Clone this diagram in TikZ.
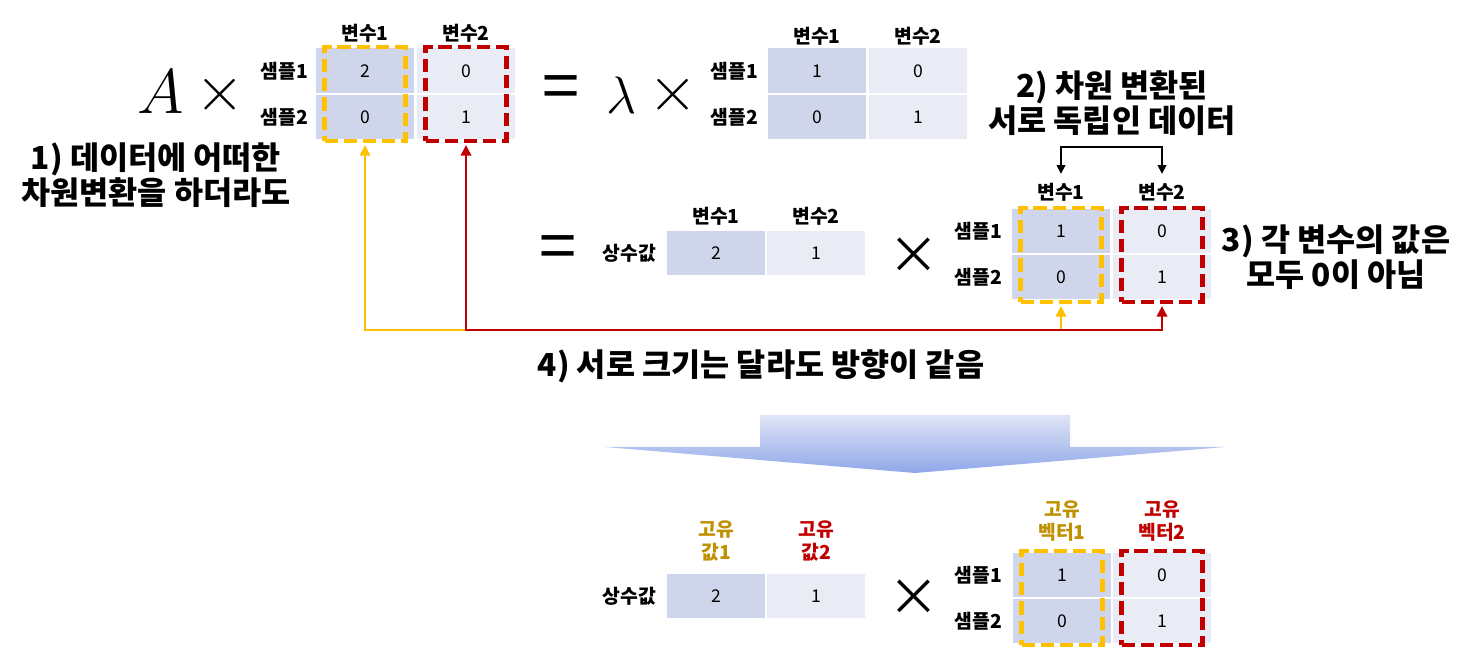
\documentclass[tikz,border=0pt]{standalone}
\usepackage{fix-cm}
\usepackage{fontspec}
\setmainfont{Noto Sans CJK KR}
\usetikzlibrary{arrows.meta}

\definecolor{celldark}{HTML}{CFD5EA}
\definecolor{celllight}{HTML}{E9EBF5}
\definecolor{dashyellow}{HTML}{FFC000}
\definecolor{dashred}{HTML}{C00000}
\definecolor{goldtext}{HTML}{BF9000}
\definecolor{arrowtop}{HTML}{E0E5F6}
\definecolor{arrowbot}{HTML}{8FA8E9}

\begin{document}
\begin{tikzpicture}[
  x=0.02cm, y=-0.02cm,
  darkcell/.style={fill=celldark, minimum width=1.96cm, minimum height=0.9cm, inner sep=0pt, font=\fontsize{10}{12}\selectfont},
  lightcell/.style={darkcell, fill=celllight},
  hdr/.style={font=\fontsize{11}{13}\selectfont\bfseries, inner sep=1pt, align=center},
  rowname/.style={hdr, anchor=east},
  note/.style={font=\fontsize{18}{19.5}\selectfont\bfseries, align=center},
  ybox/.style={draw=dashyellow, line width=2.3pt, dash pattern=on 7.5pt off 3.4pt, minimum width=1.62cm, minimum height=1.88cm, inner sep=0pt},
  rbox/.style={ybox, draw=dashred},
  yarrow/.style={{Triangle[width=6pt,length=6pt]}-{Triangle[width=6pt,length=6pt]}, line width=1.2pt, draw=dashyellow, shorten <=1.2pt, shorten >=1.2pt},
  rarrow/.style={yarrow, draw=dashred},
  blkarrow/.style={{Triangle[width=5pt,length=5pt]}-{Triangle[width=5pt,length=5pt]}, line width=0.9pt, shorten <=4pt, shorten >=4pt},
  bigsym/.style={font=\fontsize{36}{40}\selectfont, inner sep=0pt},
  eqsign/.style={font=\fontsize{38}{40}\selectfont, inner sep=0pt},
  boldx/.style={font=\fontsize{29}{32}\selectfont, inner sep=0pt}
]
\useasboundingbox (0,0) rectangle (1465,665);

% A x matrix
\node[bigsym] (amat) at (161,92) {$A$};
\node[bigsym] (times1) at (220,95) {$\times$};
\node[hdr] (ha1) at (365,33) {변수1};
\node[hdr] (ha2) at (466,33) {변수2};
\node[rowname] (ra1) at (310,71) {샘플1};
\node[rowname] (ra2) at (310,117) {샘플2};
\node[darkcell] (a11) at (365,71) {2};
\node[lightcell] (a12) at (466,71) {0};
\node[darkcell] (a21) at (365,117) {0};
\node[lightcell] (a22) at (466,117) {1};
\node[ybox] (boxya) at (365,94) {};
\node[rbox] (boxra) at (466,94) {};

% = lambda x matrix
\node[eqsign] (eq1) at (561,93) {=};
\node[bigsym, font=\fontsize{30}{32}\selectfont] (lam) at (622,95) {$\lambda$};
\node[bigsym] (times2) at (673,95) {$\times$};
\node[hdr] (hb1) at (817,36) {변수1};
\node[hdr] (hb2) at (918,36) {변수2};
\node[rowname] (rb1) at (760,71) {샘플1};
\node[rowname] (rb2) at (760,117) {샘플2};
\node[darkcell] (b11) at (817,71) {1};
\node[lightcell] (b12) at (918,71) {0};
\node[darkcell] (b21) at (817,117) {0};
\node[lightcell] (b22) at (918,117) {1};

\node[note, font=\fontsize{18}{17.5}\selectfont\bfseries] (note1) at (156,175) {1) 데이터에 어떠한\\차원변환을 하더라도};
\node[note] (note2) at (1112,103) {2) 차원 변환된\\서로 독립인 데이터};

% = constants x data
\node[eqsign] (eq2) at (558,253) {=};
\node[rowname] (rc) at (658,253) {상수값};
\node[hdr] (hc1) at (716,216) {변수1};
\node[hdr] (hc2) at (816,216) {변수2};
\node[darkcell] (c1) at (716,253) {2};
\node[lightcell] (c2) at (816,253) {1};
\node[boldx] (times3) at (914,256) {×};

\node[hdr] (hd1) at (1061,192) {변수1};
\node[hdr] (hd2) at (1162,192) {변수2};
\node[rowname] (rd1) at (1004,231) {샘플1};
\node[rowname] (rd2) at (1004,277) {샘플2};
\node[darkcell] (d11) at (1061,231) {1};
\node[lightcell] (d12) at (1162,231) {0};
\node[darkcell] (d21) at (1061,277) {0};
\node[lightcell] (d22) at (1162,277) {1};
\node[ybox] (boxyd) at (1061,255) {};
\node[rbox] (boxrd) at (1162,255) {};

\node[note, font=\fontsize{18}{20}\selectfont\bfseries] (note3) at (1336,257) {3) 각 변수의 값은\\모두 0이 아님};

\coordinate (bktop) at (1112,147);
\draw[blkarrow] (hd1.north) |- (bktop) -| (hd2.north);

% same direction links
\coordinate (lowline) at (0,330);
\draw[yarrow] (boxya.south) -- (boxya.south |- lowline) -| (boxyd.south);
\draw[rarrow] (boxra.south) -- (boxra.south |- lowline) -| (boxrd.south);

\node[note] (note4) at (761,366) {4) 서로 크기는 달라도 방향이 같음};

% block arrow
\shade[top color=arrowtop, bottom color=arrowbot] (760,415) -- (1070,415) -- (1070,447) -- (1225,447) -- (915,473) -- (605,447) -- (760,447) -- cycle;

% eigenvalues x eigenvectors
\node[hdr, text=goldtext] (he1) at (716,541) {고유\\값1};
\node[hdr, text=dashred] (he2) at (816,541) {고유\\값2};
\node[rowname] (re) at (658,596) {상수값};
\node[darkcell] (e1) at (716,596) {2};
\node[lightcell] (e2) at (816,596) {1};
\node[boldx] (times4) at (914,598) {×};

\node[hdr, text=goldtext] (hf1) at (1062,521) {고유\\벡터1};
\node[hdr, text=dashred] (hf2) at (1162,521) {고유\\벡터2};
\node[rowname] (rf1) at (1004,575) {샘플1};
\node[rowname] (rf2) at (1004,621) {샘플2};
\node[darkcell] (f11) at (1062,575) {1};
\node[lightcell] (f12) at (1162,575) {0};
\node[darkcell] (f21) at (1062,621) {0};
\node[lightcell] (f22) at (1162,621) {1};
\node[ybox] (boxyf) at (1062,598) {};
\node[rbox] (boxrf) at (1162,598) {};
\end{tikzpicture}
\end{document}
